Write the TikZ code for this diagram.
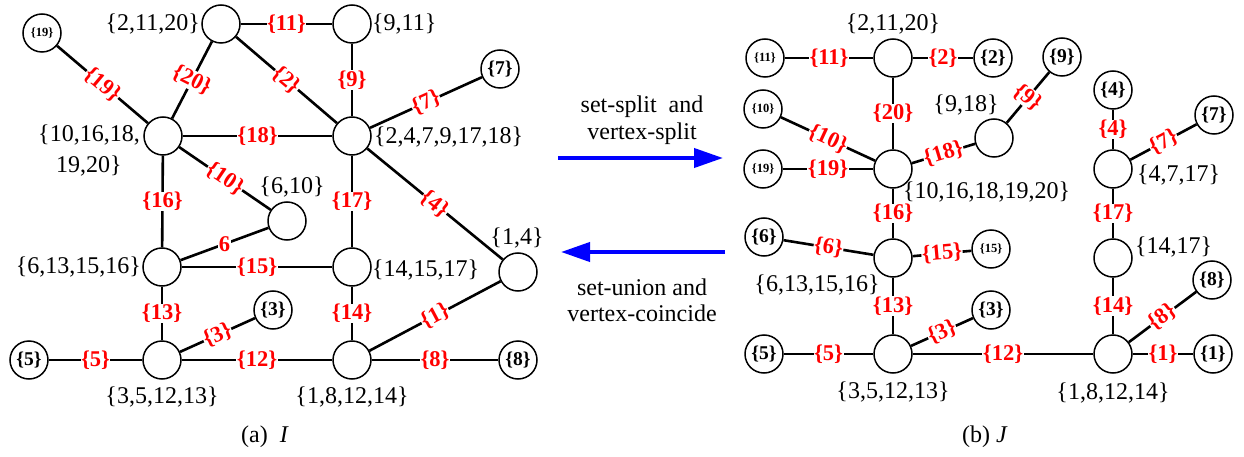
\documentclass[tikz,border=0pt]{standalone}
\usepackage{fontspec}
\setmainfont{Liberation Serif}
\usetikzlibrary{arrows.meta}
\begin{document}
\begin{tikzpicture}[x=1pt,y=-1pt,
  vtx/.style={circle,draw,line width=1.5pt,minimum size=38pt,inner sep=0pt},
  leaf/.style={vtx,font=\fontsize{19.5}{20}\selectfont\bfseries},
  leafs/.style={vtx,font=\fontsize{12.5}{14}\selectfont\bfseries},
  edge/.style={line width=2.6pt},
  el/.style={midway,fill=white,inner sep=0.5pt,text=red,font=\fontsize{22.5}{23}\selectfont\bfseries},
  setlab/.style={font=\fontsize{24}{31}\selectfont,inner sep=0pt},
  bigarrow/.style={blue,line width=4pt,-{Triangle[length=29pt,width=19pt]}},
]
\useasboundingbox (0,0) rectangle (1244,457);
% ---------- left graph (a) ----------
\node[leafs] (l19) at (42,33) {\{19\}};
\node[vtx] (A) at (221,24) {};
\node[vtx] (B) at (352,24) {};
\node[leaf] (l7) at (500,69) {\{7\}};
\node[vtx] (C) at (163,136) {};
\node[vtx] (D) at (352,136) {};
\node[vtx] (E) at (287,221) {};
\node[vtx] (F) at (162,267) {};
\node[vtx] (G) at (352,267) {};
\node[vtx] (H) at (518,272) {};
\node[leaf] (l3) at (273,310) {\{3\}};
\node[vtx] (I) at (162,360) {};
\node[vtx] (J) at (352,360) {};
\node[leaf] (l5) at (29,360) {\{5\}};
\node[leaf] (l8) at (518,360) {\{8\}};

\draw[edge] (l19) -- (C) node[el,rotate=-40] {\{19\}};
\draw[edge] (A) -- (B) node[el] {\{11\}};
\draw[edge] (A) -- (C) node[el,rotate=-27] {\{20\}};
\draw[edge] (A) -- (D) node[el,rotate=-40] {\{2\}};
\draw[edge] (B) -- (D) node[el] {\{9\}};
\draw[edge] (D) -- (l7) node[el,rotate=24] {\{7\}};
\draw[edge] (C) -- (D) node[el] {\{18\}};
\draw[edge] (C) -- (E) node[el,rotate=-34] {\{10\}};
\draw[edge] (D) -- (H) node[el,rotate=-39] {\{4\}};
\draw[edge] (C) -- (F) node[el] {\{16\}};
\draw[edge] (D) -- (G) node[el] {\{17\}};
\draw[edge] (F) -- (E) node[el] {6};
\draw[edge] (F) -- (G) node[el] {\{15\}};
\draw[edge] (F) -- (I) node[el] {\{13\}};
\draw[edge] (G) -- (J) node[el] {\{14\}};
\draw[edge] (I) -- (l3) node[el,rotate=24] {\{3\}};
\draw[edge] (J) -- (H) node[el,rotate=28] {\{1\}};
\draw[edge] (l5) -- (I) node[el] {\{5\}};
\draw[edge] (I) -- (J) node[el] {\{12\}};
\draw[edge] (J) -- (l8) node[el] {\{8\}};

\node[setlab,anchor=east] (tA) at (200,24) {\{2,11,20\}};
\node[setlab,anchor=west] (tB) at (372,24) {\{9,11\}};
\node[setlab,align=center] (tC) at (89,151) {\{10,16,18,\\19,20\}};
\node[setlab,anchor=west] (tD) at (374,137) {\{2,4,7,9,17,18\}};
\node[setlab] (tE) at (292,187) {\{6,10\}};
\node[setlab,anchor=east] (tF) at (141,267) {\{6,13,15,16\}};
\node[setlab,anchor=west] (tG) at (372,270) {\{14,15,17\}};
\node[setlab] (tH) at (517,238) {\{1,4\}};
\node[setlab] (tI) at (162,397) {\{3,5,12,13\}};
\node[setlab] (tJ) at (352,397) {\{1,8,12,14\}};
\node[setlab] (capa) at (265,437) {(a)\ \ \textit{I}};

% ---------- arrows ----------
\coordinate (a1s) at (558,158);
\coordinate (a1e) at (723,158);
\coordinate (a2s) at (725,252);
\coordinate (a2e) at (561,252);
\draw[bigarrow] (a1s) -- (a1e);
\draw[bigarrow] (a2s) -- (a2e);
\node[setlab] (t1) at (642,107) {set-split\ \ and};
\node[setlab] (t2) at (642,134) {vertex-split};
\node[setlab] (t3) at (642,287) {set-union and};
\node[setlab] (t4) at (642,313) {vertex-coincide};

% ---------- right graph (b) ----------
\node[leafs] (r11) at (765,58) {\{11\}};
\node[vtx] (K) at (893,58) {};
\node[leaf] (r2) at (993,58) {\{2\}};
\node[leaf] (r9) at (1062,57) {\{9\}};
\node[leafs] (r10) at (763,109) {\{10\}};
\node[vtx] (L) at (994,138) {};
\node[leafs] (r19) at (763,169) {\{19\}};
\node[vtx] (M) at (893,169) {};
\node[leaf] (r4) at (1113,90) {\{4\}};
\node[vtx] (N) at (1113,169) {};
\node[leaf] (r7) at (1214,115) {\{7\}};
\node[vtx] (O) at (1113,258) {};
\node[leaf] (r6) at (764,237) {\{6\}};
\node[vtx] (Q) at (893,258) {};
\node[leafs] (r15) at (991,249) {\{15\}};
\node[leaf] (r3) at (991,310) {\{3\}};
\node[leaf] (r5) at (764,354) {\{5\}};
\node[vtx] (R) at (893,354) {};
\node[vtx] (P) at (1113,354) {};
\node[leaf] (r8) at (1212,280) {\{8\}};
\node[leaf] (r1) at (1213,354) {\{1\}};

\draw[edge] (r11) -- (K) node[el] {\{11\}};
\draw[edge] (K) -- (r2) node[el] {\{2\}};
\draw[edge] (K) -- (M) node[el] {\{20\}};
\draw[edge] (r10) -- (M) node[el,rotate=-25] {\{10\}};
\draw[edge] (r19) -- (M) node[el] {\{19\}};
\draw[edge] (M) -- (L) node[el,rotate=17] {\{18\}};
\draw[edge] (L) -- (r9) node[el,rotate=-40] {\{9\}};
\draw[edge] (r4) -- (N) node[el] {\{4\}};
\draw[edge] (N) -- (r7) node[el,rotate=28] {\{7\}};
\draw[edge] (N) -- (O) node[el] {\{17\}};
\draw[edge] (M) -- (Q) node[el] {\{16\}};
\draw[edge] (r6) -- (Q) node[el,rotate=-9] {\{6\}};
\draw[edge] (Q) -- (r15) node[el,rotate=5] {\{15\}};
\draw[edge] (Q) -- (R) node[el] {\{13\}};
\draw[edge] (O) -- (P) node[el] {\{14\}};
\draw[edge] (R) -- (r3) node[el,rotate=24] {\{3\}};
\draw[edge] (r5) -- (R) node[el] {\{5\}};
\draw[edge] (R) -- (P) node[el] {\{12\}};
\draw[edge] (P) -- (r8) node[el,rotate=37] {\{8\}};
\draw[edge] (P) -- (r1) node[el] {\{1\}};

\node[setlab] (tK) at (893,24) {\{2,11,20\}};
\node[setlab] (tL) at (966,105) {\{9,18\}};
\node[setlab,anchor=west] (tM) at (903,192) {\{10,16,18,19,20\}};
\node[setlab,anchor=west] (tN) at (1137,175) {\{4,7,17\}};
\node[setlab,anchor=west] (tO) at (1135,247) {\{14,17\}};
\node[setlab] (tQ) at (817,285) {\{6,13,15,16\}};
\node[setlab] (tR) at (893,392) {\{3,5,12,13\}};
\node[setlab] (tP) at (1113,393) {\{1,8,12,14\}};
\node[setlab] (capb) at (985,437) {(b) \textit{J}};
\end{tikzpicture}
\end{document}
